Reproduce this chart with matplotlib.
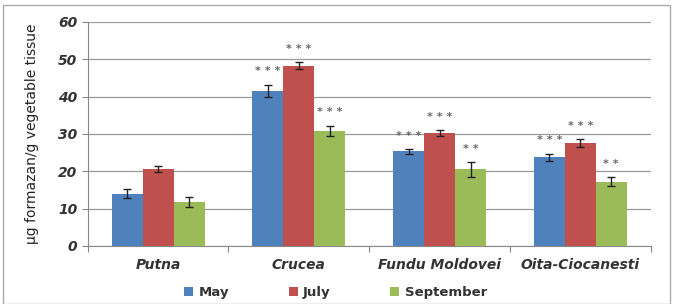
import numpy as np
import matplotlib.pyplot as plt
from matplotlib.patches import Rectangle

sites = ['Putna', 'Crucea', 'Fundu Moldovei', 'Oita-Ciocanesti']
months = ['May', 'July', 'September']
colors = ['#4F81BD', '#C0504D', '#9BBB59']

may = [14.0, 41.5, 25.3, 23.7]
july = [20.7, 48.3, 30.2, 27.6]
september = [11.8, 30.8, 20.5, 17.2]
may_err = [1.2, 1.7, 0.7, 1.0]
july_err = [0.8, 0.9, 0.8, 1.0]
september_err = [1.3, 1.4, 2.0, 1.2]
may_sig = ['', '***', '***', '***']
july_sig = ['', '***', '***', '***']
september_sig = ['', '***', '**', '**']

values = [may, july, september]
errors = [may_err, july_err, september_err]
sigs = [may_sig, july_sig, september_sig]

fig = plt.figure(figsize=(6.75, 3.04), dpi=100)
ax = fig.add_axes([0.130, 0.191, 0.834, 0.737])

x = np.arange(len(sites))
w = 0.22
for i in range(3):
    pos = x + (i - 1) * w
    ax.bar(pos, values[i], w, color=colors[i], label=months[i], zorder=3,
           yerr=errors[i], error_kw=dict(ecolor='#222222', elinewidth=1, capsize=3, capthick=1))
    for p, v, e, s in zip(pos, values[i], errors[i], sigs[i]):
        if s:
            ax.text(p, v + e + 2.2, ' '.join(s), ha='center', va='bottom', fontsize=8,
                    color='#666666', fontweight='bold')

ax.set_xlim(-0.5, len(sites) - 0.5)
ax.set_ylim(0, 60)
ax.set_yticks(range(0, 61, 10))
ax.yaxis.grid(True, color='#999999', linewidth=0.9, zorder=0)
ax.set_axisbelow(True)
for sp in ['top', 'right']:
    ax.spines[sp].set_visible(False)
ax.spines['left'].set_color('#888888')
ax.spines['bottom'].set_color('#888888')
ax.tick_params(axis='y', length=4, color='#888888', labelsize=10, labelcolor='#333333')
ax.set_xticks(np.arange(-0.5, len(sites)), minor=False)
ax.set_xticklabels([])
ax.set_xticks(x, minor=True)
ax.set_xticklabels(sites, minor=True)
ax.tick_params(axis='x', which='major', length=4, color='#888888')
ax.tick_params(axis='x', which='minor', length=0, labelsize=10, labelcolor='#333333', pad=9)
for lab in ax.get_yticklabels() + ax.get_xticklabels(minor=True):
    lab.set_fontweight('bold')
    lab.set_fontstyle('italic')

ax.set_ylabel('μg formazan/g vegetable tissue', fontsize=10, color='#222222',
              family='Liberation Sans Narrow', labelpad=14)

ax.legend(loc='upper center', bbox_to_anchor=(0.44, -0.168), ncol=3, frameon=False,
          prop=dict(weight='bold', size=9.5), handlelength=0.7, handleheight=0.7,
          columnspacing=4.5, handletextpad=0.4, labelcolor='#333333',
          borderaxespad=0, borderpad=0.2)

fig.patches.append(Rectangle((0.004, 0.0), 0.988, 0.983, transform=fig.transFigure,
                             fill=False, edgecolor='#aaaaaa', linewidth=1))

fig.savefig('out.png', dpi=100)
